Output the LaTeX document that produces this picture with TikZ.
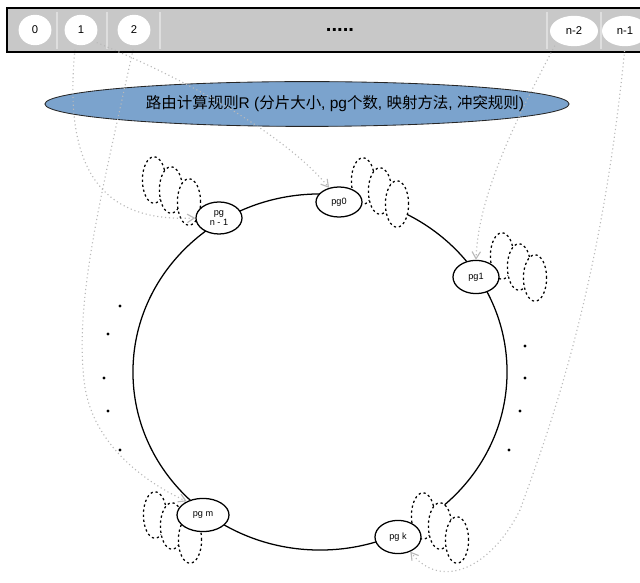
\documentclass[tikz,border=0pt]{standalone}
\usepackage{fontspec}
\setmainfont{Liberation Sans}
\newfontfamily\cjkfont{Noto Sans CJK SC}
\usetikzlibrary{arrows.meta, positioning, shapes.geometric, calc}
\definecolor{bargray}{RGB}{200, 200, 200}
\definecolor{seplight}{RGB}{222, 222, 222}
\definecolor{ruleblue}{RGB}{123, 163, 205}
\definecolor{linkgray}{RGB}{185, 185, 185}

\begin{document}
\begin{tikzpicture}[
    x=0.025cm, y=-0.025cm,
    >={Straight Barb[length=5pt, width=6pt]},
    slot/.style={ellipse, fill=white, minimum width=#1, minimum height=0.76cm, inner sep=0pt, font=\footnotesize},
    slot/.default=0.82cm,
    pg/.style={ellipse, draw=black, fill=white, line width=0.9pt, minimum width=#1, minimum height=0.8cm, inner sep=0pt, align=center, font=\fontsize{6.5}{7}\selectfont},
    pg/.default=1.15cm,
    stack/.style={draw=black, fill=white, line width=0.9pt, dash pattern=on 1.6pt off 2pt},
    link/.style={->, draw=linkgray, line width=0.8pt, dotted, shorten <=3pt},
    rulebox/.style={ellipse, draw=black!85, fill=ruleblue, line width=0.6pt, minimum width=13.1cm, minimum height=1.12cm, inner sep=0pt},
  ]

  \useasboundingbox (0,0) rectangle (640,583);
  \clip (0,0) rectangle (640,583);

  % Slots
  \draw[line width=1.6pt, fill=bargray] (7,8) rectangle (680,52);
  \foreach \x in {57, 107, 160, 547, 601} {
    \draw[seplight, line width=1.2pt] (\x,12) -- (\x,49);
  }
  \node[slot] (s0) at (35,30) {0};
  \node[slot] (s1) at (81,30) {1};
  \node[slot] (s2) at (134,30) {2};
  \node[font=\Large\bfseries] (sdots) at (340,30) {.....};
  \node[slot=1.2cm] (sn2) at (574,31) {n-2};
  \node[slot=1.15cm] (sn1) at (625,31) {n-1};

  % Ring
  \draw[line width=0.9pt] (320,372) ellipse [x radius=4.675cm, y radius=4.45cm];

  % Replicas
  \foreach \x/\y in {154/180, 171/190, 189/202, 363/181, 380/191, 397/204, 502/256, 519/267, 535/278,
                     155/515, 172/526, 190/540, 423/516, 440/526, 457/540} {
    \draw[stack] (\x,\y) ellipse [x radius=0.29cm, y radius=0.58cm];
  }

  \node[pg] (pgn) at (219,218) {pg\\n - 1};
  \node[pg, minimum height=0.75cm] (pg0) at (339,202) {pg0};
  \node[pg, minimum height=0.83cm] (pg1) at (476,277) {pg1};
  \node[pg=1.3cm, minimum height=0.83cm] (pgm) at (203,515) {pg m};
  \node[pg, minimum height=0.83cm] (pgk) at (398,537) {pg k};

  \foreach \x/\y in {120/306, 108/334, 104/378, 108/411, 120/450, 525/346, 525/378, 520/411, 509/450} {
    \fill (\x,\y) circle (1.1pt);
  }

  % Rule
  \node[rulebox] (rule) at (307,104) {};
  \node[font=\fontsize{11}{13}\selectfont] (ruletext) at (335,104)
    {{\cjkfont 路由计算规则}R ({\cjkfont 分片大小}, pg{\cjkfont 个数}, {\cjkfont 映射方法}, {\cjkfont 冲突规则})};

  % Mapping
  \draw[link] ([xshift=-4pt]s1.south) .. controls (62,180) and (110,222) .. (pgn.west);
  \draw[link] (s1.south east) .. controls (200,85) and (290,140) .. (pg0.125);
  \draw[link] (s2.south) .. controls (100,200) and (75,300) .. (84,380)
    .. controls (90,440) and (140,480) .. (pgm.140);
  \draw[link] (sn2.south west) .. controls (510,130) and (478,200) .. (pg1.north);
  \draw[link] (sn1.south) .. controls (600,300) and (545,440) .. (520,510)
    .. controls (490,570) and (440,590) .. (pgk.-50);

\end{tikzpicture}
\end{document}
